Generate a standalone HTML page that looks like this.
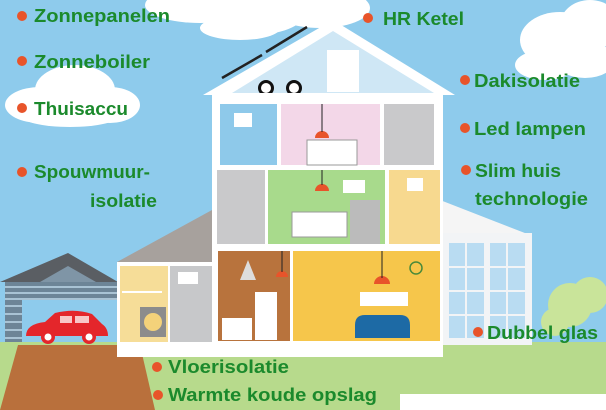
<!DOCTYPE html>
<html><head><meta charset="utf-8"><style>
html,body{margin:0;padding:0;width:606px;height:410px;overflow:hidden;background:#8ecbec}
svg{display:block}
text{font-family:"Liberation Sans",sans-serif;font-weight:bold;fill:#1b8a2c;font-size:18px}
</style></head><body>
<svg width="606" height="410" viewBox="0 0 606 410" xmlns="http://www.w3.org/2000/svg">
<rect width="606" height="410" fill="#8ecbec"/>
<!-- clouds -->
<g fill="#fff">
<ellipse cx="200" cy="5" rx="55" ry="18"/><ellipse cx="260" cy="12" rx="45" ry="22"/><ellipse cx="320" cy="8" rx="50" ry="20"/><ellipse cx="240" cy="28" rx="40" ry="12"/>
<ellipse cx="40" cy="105" rx="35" ry="18"/><ellipse cx="75" cy="90" rx="40" ry="25"/><ellipse cx="110" cy="105" rx="30" ry="18"/><ellipse cx="70" cy="115" rx="50" ry="12"/>
<ellipse cx="560" cy="40" rx="40" ry="28"/><ellipse cx="590" cy="25" rx="30" ry="25"/><ellipse cx="545" cy="65" rx="30" ry="15"/><ellipse cx="585" cy="60" rx="30" ry="18"/>
</g>
<!-- grass -->
<rect x="0" y="342" width="606" height="52" fill="#b7da8c"/>
<rect x="0" y="394" width="606" height="16" fill="#b7da8c"/>
<rect x="400" y="394" width="206" height="16" fill="#fff"/>
<!-- tree -->
<g fill="#c9e49a"><circle cx="570" cy="305" r="22"/><circle cx="590" cy="295" r="18"/><circle cx="555" cy="322" r="14"/></g>
<!-- driveway -->
<polygon points="18,345 140,345 155,410 0,410" fill="#b9703c"/>
<!-- garage -->
<polygon points="0,282 68,253 118,282" fill="#5a5e63"/>
<polygon points="40,282 68,266 96,282" fill="#7f95a6"/>
<rect x="5" y="282" width="113" height="60" fill="#6d8597"/>
<g stroke="#a9c3d4" stroke-width="2">
<line x1="5" y1="287" x2="118" y2="287"/><line x1="5" y1="293" x2="118" y2="293"/><line x1="5" y1="299" x2="118" y2="299"/>
</g>
<rect x="22" y="300" width="96" height="42" fill="#8ecbec"/>
<g stroke="#a9c3d4" stroke-width="2"><line x1="5" y1="306" x2="22" y2="306"/><line x1="5" y1="314" x2="22" y2="314"/><line x1="5" y1="322" x2="22" y2="322"/><line x1="5" y1="330" x2="22" y2="330"/><line x1="5" y1="338" x2="22" y2="338"/></g>
<path d="M26,336 Q26,324 45,322 L55,313 Q75,308 92,314 L102,324 Q108,328 108,336 Z" fill="#e4262b"/>
<rect x="60" y="316" width="12" height="7" fill="#f8c7c7"/><rect x="75" y="316" width="14" height="7" fill="#f8c7c7"/>
<circle cx="48" cy="337" r="7" fill="#e4262b"/><circle cx="48" cy="337" r="3.5" fill="#fff"/>
<circle cx="89" cy="337" r="7" fill="#e4262b"/><circle cx="89" cy="337" r="3.5" fill="#fff"/>
<!-- left annex -->
<polygon points="117,262 212,210 212,262" fill="#a7a19d"/>
<rect x="117" y="262" width="98" height="84" fill="#fff"/>
<rect x="120" y="266" width="48" height="76" fill="#f6dd98"/>
<rect x="170" y="266" width="42" height="76" fill="#c7c8ca"/>
<rect x="140" y="307" width="26" height="30" fill="#8c8c8c"/><circle cx="153" cy="322" r="9" fill="#f4d27a"/>
<rect x="122" y="291" width="40" height="2" fill="#fff"/>
<rect x="178" y="272" width="20" height="12" fill="#fff"/>
<!-- right wing -->
<polygon points="440,200 530,235 440,235" fill="#f5f5f5"/>
<rect x="440" y="233" width="92" height="112" fill="#f2f4f6"/>
<g fill="#b9dcf2"><rect x="449" y="243" width="35" height="95"/><rect x="490" y="243" width="35" height="95"/></g>
<g stroke="#f2f4f6" stroke-width="2"><line x1="466" y1="243" x2="466" y2="338"/><line x1="507" y1="243" x2="507" y2="338"/><line x1="449" y1="267" x2="525" y2="267"/><line x1="449" y1="291" x2="525" y2="291"/><line x1="449" y1="315" x2="525" y2="315"/></g>
<!-- main house -->
<polygon points="333,20 455,95 438,95 438,100 216,100 216,95 203,95" fill="#fff"/>
<polygon points="333,31 434,93 232,93" fill="#cfe7f5"/>
<line x1="222" y1="78" x2="262" y2="55" stroke="#222" stroke-width="2.5"/><line x1="266" y1="52" x2="307" y2="27" stroke="#222" stroke-width="2.5"/>
<circle cx="266" cy="88" r="8" fill="#111"/><circle cx="266" cy="88" r="5" fill="#fff"/><circle cx="294" cy="88" r="8" fill="#111"/><circle cx="294" cy="88" r="5" fill="#fff"/>
<rect x="327" y="50" width="32" height="42" fill="#fff"/>
<rect x="212" y="93" width="231" height="264" fill="#fff"/>
<rect x="117" y="342" width="326" height="15" fill="#fff"/>
<!-- rooms -->
<rect x="220" y="104" width="57" height="61" fill="#8ec9ea"/>
<rect x="281" y="104" width="99" height="61" fill="#f3d7e8"/>
<rect x="384" y="104" width="50" height="61" fill="#c9c9cb"/>
<rect x="217" y="170" width="48" height="74" fill="#c9c9cb"/>
<rect x="268" y="170" width="117" height="74" fill="#a8da8c"/>
<rect x="389" y="170" width="51" height="74" fill="#f7d98f"/>
<rect x="218" y="251" width="72" height="90" fill="#b8733d"/>
<rect x="293" y="251" width="147" height="90" fill="#f6c64b"/>
<!-- furniture -->
<rect x="234" y="113" width="18" height="14" fill="#fff"/><rect x="343" y="180" width="22" height="13" fill="#fff"/><rect x="407" y="178" width="16" height="13" fill="#fff"/>
<rect x="307" y="140" width="50" height="25" fill="#fff" stroke="#999"/><rect x="292" y="212" width="55" height="25" fill="#fff" stroke="#999"/>
<rect x="350" y="200" width="30" height="44" fill="#bbb"/>
<rect x="255" y="292" width="22" height="48" fill="#fff"/><rect x="222" y="318" width="30" height="22" fill="#fff"/>
<path d="M355,325 Q355,315 365,315 L400,315 Q410,315 410,325 L410,338 L355,338 Z" fill="#1d6aa5"/>
<rect x="360" y="292" width="48" height="14" fill="#fff"/>
<circle cx="416" cy="268" r="6" fill="none" stroke="#4a8a3a" stroke-width="1.5"/>
<g fill="#e8542a"><path d="M315,138 h14 a7,7 0 0 0 -14,0z"/><path d="M315,191 h14 a7,7 0 0 0 -14,0z"/><path d="M276,277 h12 a6,6 0 0 0 -12,0z"/><path d="M374,284 h16 a8,8 0 0 0 -16,0z"/></g>
<g stroke="#222" stroke-width="1"><line x1="322" y1="104" x2="322" y2="132"/><line x1="322" y1="170" x2="322" y2="185"/><line x1="282" y1="251" x2="282" y2="272"/><line x1="382" y1="251" x2="382" y2="278"/></g>
<polygon points="240,280 248,260 256,280" fill="#ddd"/>
<!-- labels -->
<g fill="#e8542a">
<circle cx="22" cy="16" r="5"/><circle cx="22" cy="61" r="5"/><circle cx="22" cy="108" r="5"/><circle cx="22" cy="172" r="5"/>
<circle cx="368" cy="18" r="5"/><circle cx="465" cy="80" r="5"/><circle cx="465" cy="128" r="5"/><circle cx="466" cy="170" r="5"/>
<circle cx="478" cy="332" r="5"/><circle cx="157" cy="367" r="5"/><circle cx="158" cy="395" r="5"/>
</g>
<text x="34" y="22" textLength="136" lengthAdjust="spacingAndGlyphs">Zonnepanelen</text>
<text x="34" y="68" textLength="116" lengthAdjust="spacingAndGlyphs">Zonneboiler</text>
<text x="34" y="115" textLength="94" lengthAdjust="spacingAndGlyphs">Thuisaccu</text>
<text x="34" y="178" textLength="116" lengthAdjust="spacingAndGlyphs">Spouwmuur-</text>
<text x="90" y="207" textLength="67" lengthAdjust="spacingAndGlyphs">isolatie</text>
<text x="383" y="25" textLength="81" lengthAdjust="spacingAndGlyphs">HR Ketel</text>
<text x="474" y="87" textLength="106" lengthAdjust="spacingAndGlyphs">Dakisolatie</text>
<text x="474" y="135" textLength="112" lengthAdjust="spacingAndGlyphs">Led lampen</text>
<text x="475" y="177" textLength="86" lengthAdjust="spacingAndGlyphs">Slim huis</text>
<text x="475" y="205" textLength="113" lengthAdjust="spacingAndGlyphs">technologie</text>
<text x="487" y="339" textLength="111" lengthAdjust="spacingAndGlyphs">Dubbel glas</text>
<text x="168" y="373" textLength="121" lengthAdjust="spacingAndGlyphs">Vloerisolatie</text>
<text x="168" y="401" textLength="209" lengthAdjust="spacingAndGlyphs">Warmte koude opslag</text>
</svg>
</body></html>
